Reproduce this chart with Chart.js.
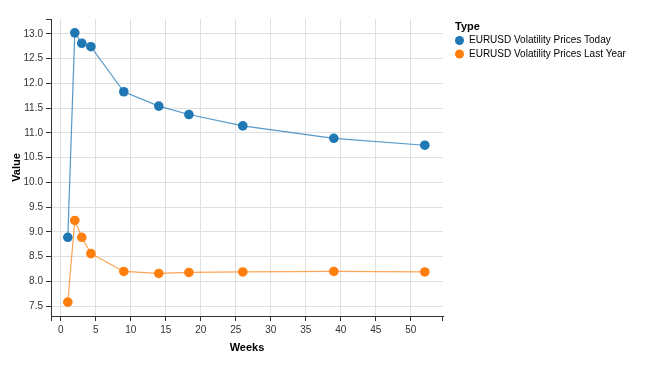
<!DOCTYPE html>
<html>
<head>
<meta charset="utf-8">
<script src="https://cdn.jsdelivr.net/npm/chart.js@4"></script>
<style>
  html, body { margin: 0; padding: 0; background: #fff; }
  canvas { display: block; }
</style>
</head>
<body>
<canvas id="chart" width="650" height="370"></canvas>
<script>
const weeks = [1, 2, 3, 4.3, 9, 14, 18.3, 26, 39, 52]
const pricesToday = [8.89, 13.02, 12.81, 12.74, 11.83, 11.54, 11.37, 11.14, 10.89, 10.75]
const pricesLastYear = [7.58, 9.23, 8.89, 8.56, 8.2, 8.16, 8.18, 8.19, 8.2, 8.19]
const seriesNames = ['EURUSD Volatility Prices Today', 'EURUSD Volatility Prices Last Year']
const xTicks = [0, 5, 10, 15, 20, 25, 30, 35, 40, 45, 50]
const yTicks = [7.5, 8.0, 8.5, 9.0, 9.5, 10.0, 10.5, 11.0, 11.5, 12.0, 12.5, 13.0]
const seriesColors = ['#1f77b4', '#ff7f0e']
const lineColors = ['rgba(31,119,180,0.75)', 'rgba(255,127,14,0.7)']

const FONT = 'Liberation Sans, Arial, sans-serif'
const AXIS = '#333'
const GRID = '#e0e0e0'

const toPoints = (values) => weeks.map((w, i) => ({ x: w, y: values[i] }))

const makeSet = (i, values) => ({
  label: seriesNames[i],
  data: toPoints(values),
  borderColor: lineColors[i],
  borderWidth: 1.2,
  backgroundColor: seriesColors[i],
  pointBackgroundColor: seriesColors[i],
  pointBorderColor: seriesColors[i],
  pointBorderWidth: 0,
  pointRadius: 4.8,
  tension: 0
})

const fixedTicks = (list) => (scale) => {
  scale.ticks = list.map(v => ({ value: v }))
}

// legend + domain end ticks, vega style
const extras = {
  id: 'extras',
  afterDraw (chart) {
    const { ctx, chartArea: a } = chart
    ctx.save()
    ctx.strokeStyle = AXIS
    ctx.lineWidth = 1
    ctx.beginPath()
    ctx.moveTo(a.left + 0.5, a.bottom); ctx.lineTo(a.left + 0.5, a.bottom + 5)
    ctx.moveTo(a.right - 0.5, a.bottom); ctx.lineTo(a.right - 0.5, a.bottom + 5)
    ctx.moveTo(a.left, a.top + 0.5); ctx.lineTo(a.left - 5, a.top + 0.5)
    ctx.stroke()

    const lx = 455
    ctx.fillStyle = '#000'
    ctx.font = 'bold 11px ' + FONT
    ctx.textBaseline = 'middle'
    ctx.textAlign = 'left'
    ctx.fillText('Type', lx, 27)
    ctx.font = '10px ' + FONT
    seriesNames.forEach((name, i) => {
      const y = 40.5 + i * 13.5
      ctx.fillStyle = seriesColors[i]
      ctx.beginPath()
      ctx.arc(lx + 4.5, y, 4.5, 0, Math.PI * 2)
      ctx.fill()
      ctx.fillStyle = '#000'
      ctx.fillText(name, lx + 14, y)
    })
    ctx.restore()
  }
}

new Chart(document.getElementById('chart'), {
  type: 'line',
  data: {
    datasets: [makeSet(0, pricesToday), makeSet(1, pricesLastYear)]
  },
  options: {
    responsive: false,
    animation: false,
    layout: { padding: { left: 0, top: 19, right: 207, bottom: 0 } },
    plugins: {
      legend: { display: false },
      tooltip: { enabled: false }
    },
    scales: {
      x: {
        type: 'linear',
        min: -1.4,
        max: 54.6,
        afterBuildTicks: fixedTicks(xTicks),
        afterFit: (s) => { s.height = 54 },
        ticks: {
          color: AXIS,
          font: { family: FONT, size: 10 },
          maxRotation: 0,
          autoSkip: false,
          padding: 3
        },
        grid: { color: GRID, tickColor: AXIS, tickLength: 5 },
        border: { display: true, color: AXIS, width: 1 },
        title: {
          display: true,
          text: 'Weeks',
          color: '#000',
          font: { family: FONT, size: 11, weight: 'bold' },
          padding: { top: 4, bottom: 15 }
        }
      },
      y: {
        min: 7.3,
        max: 13.3,
        afterBuildTicks: fixedTicks(yTicks),
        afterFit: (s) => { s.width = 51 },
        ticks: {
          color: AXIS,
          font: { family: FONT, size: 10 },
          autoSkip: false,
          padding: 3,
          callback: (v) => Number(v).toFixed(1)
        },
        grid: { color: GRID, tickColor: AXIS, tickLength: 5 },
        border: { display: true, color: AXIS, width: 1 },
        title: {
          display: true,
          text: 'Value',
          color: '#000',
          font: { family: FONT, size: 11, weight: 'bold' },
          padding: { top: 10, bottom: 4 }
        }
      }
    }
  },
  plugins: [extras]
})
</script>
</body>
</html>
